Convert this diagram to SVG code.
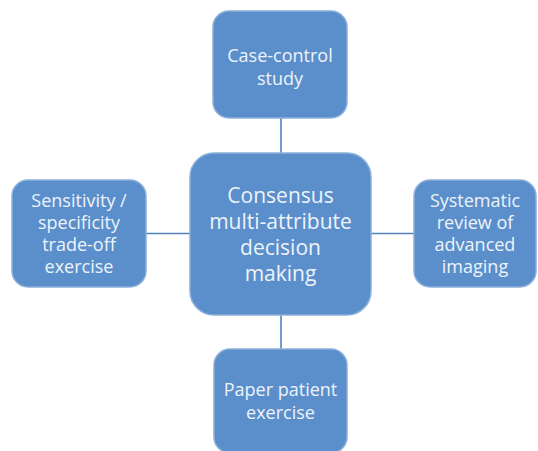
<svg xmlns="http://www.w3.org/2000/svg" width="538" height="451" viewBox="0 0 538 451">
<style>
.box{fill:#5A8FCB;stroke:#8DB0DA;stroke-width:1.5}
.t{font-family:"Open Sans","Liberation Sans",sans-serif;fill:#EEF3FA;text-anchor:middle}
.s{font-size:18px}
.b{font-size:21px}
.c{stroke:#4F81BD;stroke-width:1.6;fill:none}
</style>
<rect width="538" height="451" fill="#FFFFFF"/>
<g id="connectors">
<line class="c" x1="281" y1="118" x2="281" y2="153"/>
<line class="c" x1="281" y1="315" x2="281" y2="349"/>
<line class="c" x1="146" y1="233.5" x2="190" y2="233.5"/>
<line class="c" x1="371" y1="233.5" x2="414" y2="233.5"/>
</g>
<g id="center">
<rect class="box" x="190" y="153" width="181" height="162" rx="24"/>
<text class="t b" x="280.5" y="203">Consensus</text>
<text class="t b" x="280.5" y="229">multi-attribute</text>
<text class="t b" x="280.5" y="255">decision</text>
<text class="t b" x="280.5" y="281">making</text>
</g>
<g id="top">
<rect class="box" x="213" y="11" width="134" height="107" rx="16"/>
<text class="t s" x="280" y="62">Case-control</text>
<text class="t s" x="280" y="85">study</text>
</g>
<g id="left">
<rect class="box" x="12" y="180" width="134" height="107" rx="16"/>
<text class="t s" x="79" y="207">Sensitivity /</text>
<text class="t s" x="79" y="229">specificity</text>
<text class="t s" x="79" y="251">trade-off</text>
<text class="t s" x="79" y="273">exercise</text>
</g>
<g id="right">
<rect class="box" x="414" y="180" width="122" height="107" rx="16"/>
<text class="t s" x="475" y="207">Systematic</text>
<text class="t s" x="475" y="229">review of</text>
<text class="t s" x="475" y="251">advanced</text>
<text class="t s" x="475" y="273">imaging</text>
</g>
<g id="bottom">
<rect class="box" x="214" y="349" width="133" height="104" rx="16"/>
<text class="t s" x="280.5" y="396">Paper patient</text>
<text class="t s" x="280.5" y="419">exercise</text>
</g>
</svg>
